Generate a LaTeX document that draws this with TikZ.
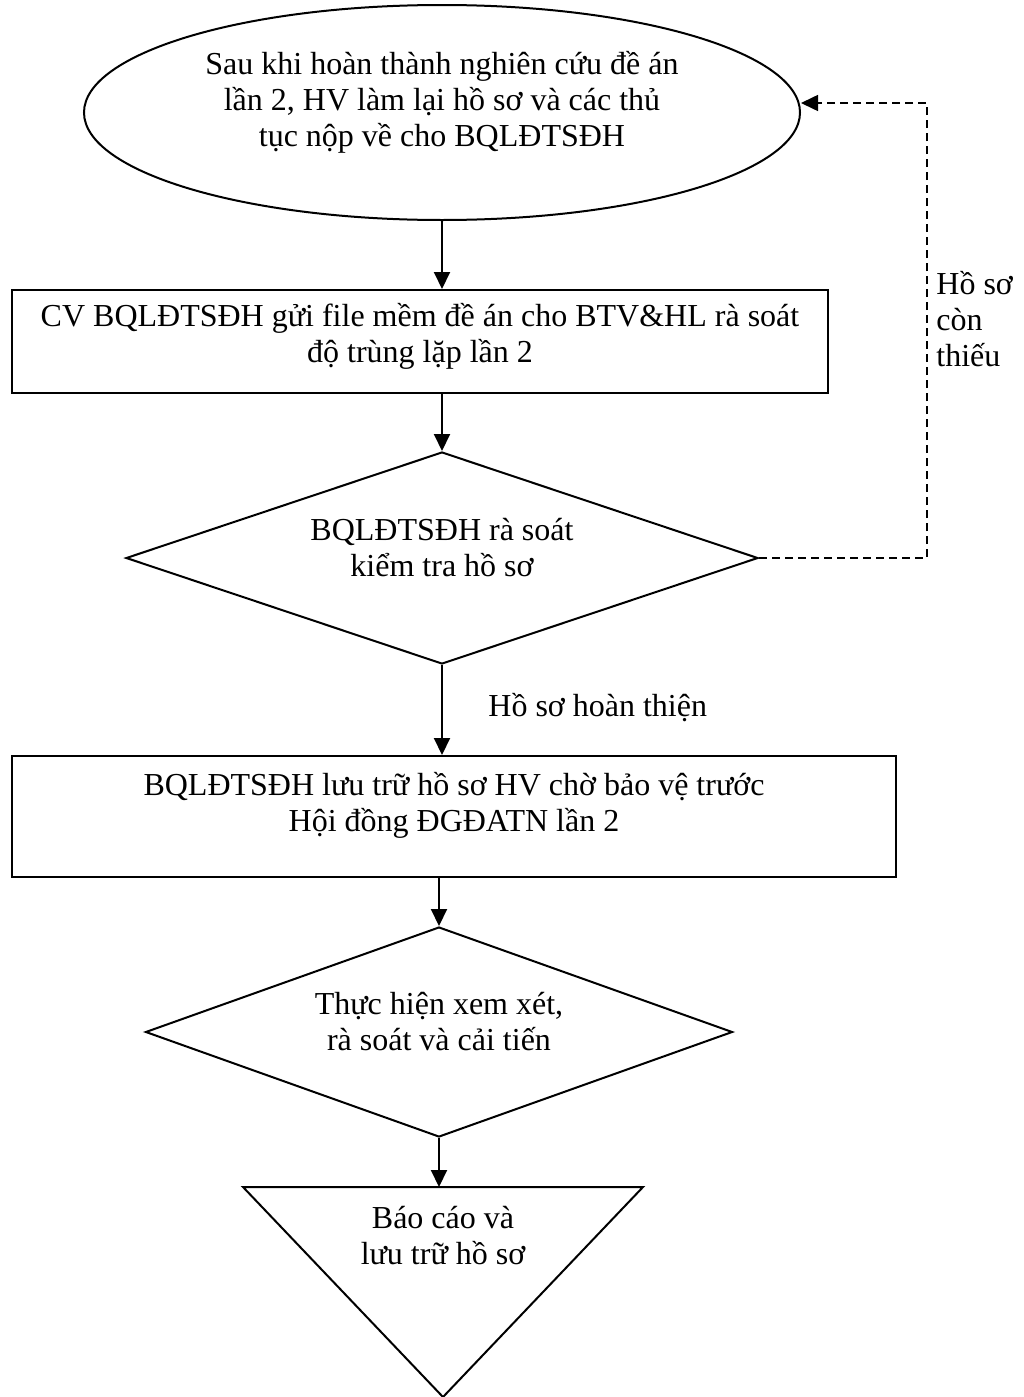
\documentclass[tikz,border=0pt]{standalone}
\usepackage{fontspec}
\setmainfont{Liberation Serif}
\usetikzlibrary{shapes.geometric,arrows.meta}
\begin{document}
\begin{tikzpicture}[x=0.5pt,y=-0.5pt,
  font=\fontsize{16}{18}\selectfont,
  shapeline/.style={draw, line width=1pt},
  boxnode/.style={shapeline, rectangle, inner sep=0pt},
  dianode/.style={shapeline, diamond, inner sep=0pt},
  txt/.style={align=center, inner sep=0pt},
  arr/.style={line width=1pt, -{Triangle[length=8.5pt,width=8pt]}},
  dasharr/.style={line width=0.8pt, dash pattern=on 4pt off 2.5pt, -{Triangle[length=8.5pt,width=8pt]}}]
\useasboundingbox (0,0) rectangle (1023,1397);

% start ellipse
\node[ellipse, shapeline, inner sep=0pt, minimum width=358pt, minimum height=107.5pt] (e) at (442,112.5) {};
\node[txt, yshift=5pt] (et) at (e.center) {Sau khi hoàn thành nghiên cứu đề án\\lần 2, HV làm lại hồ sơ và các thủ\\tục nộp về cho BQLĐTSĐH};

% box 1
\node[boxnode, minimum width=408pt, minimum height=51.5pt] (b1) at (420,341.5) {};
\node[txt, yshift=2.5pt] (b1t) at (b1.center) {CV BQLĐTSĐH gửi file mềm đề án cho BTV\&HL rà soát\\độ trùng lặp lần 2};

% decision 1
\node[dianode, minimum width=316pt, minimum height=106pt] (d1) at (442,558) {};
\node[txt, yshift=5pt] (d1t) at (d1.center) {BQLĐTSĐH rà soát\\kiểm tra hồ sơ};

% box 2
\node[boxnode, minimum width=442pt, minimum height=60.5pt] (b2) at (454,816.5) {};
\node[txt, yshift=5.5pt] (b2t) at (b2.center) {BQLĐTSĐH lưu trữ hồ sơ HV chờ bảo vệ trước\\Hội đồng ĐGĐATN lần 2};

% decision 2
\node[dianode, minimum width=293.5pt, minimum height=105pt] (d2) at (439,1032) {};
\node[txt, yshift=5pt] (d2t) at (d2.center) {Thực hiện xem xét,\\rà soát và cải tiến};

% end triangle
\draw[shapeline] (243,1187) -- (643,1187) -- (443,1397) -- cycle;
\coordinate (tritop) at (443,1187);
\node[txt] (trit) at (443,1236) {Báo cáo và\\lưu trữ hồ sơ};

% connectors
\draw[arr] (e.south) -- (e.south |- b1.north);
\draw[arr] (d1.north |- b1.south) -- (d1.north);
\draw[arr] (d1.south) -- (d1.south |- b2.north);
\draw[arr] (d2.north |- b2.south) -- (d2.north);
\draw[arr] (d2.south) -- (d2.south |- tritop);

% feedback loop
\coordinate (fb) at (927,103);
\draw[dasharr] (d1.east) -| (fb) -- (fb -| e.east);

% labels
\node[txt, anchor=west] (lok) at (488,708) {Hồ sơ hoàn thiện};
\node[align=left, inner sep=0pt, anchor=west] (lmiss) at (936,319) {Hồ sơ\\còn\\thiếu};
\end{tikzpicture}
\end{document}
